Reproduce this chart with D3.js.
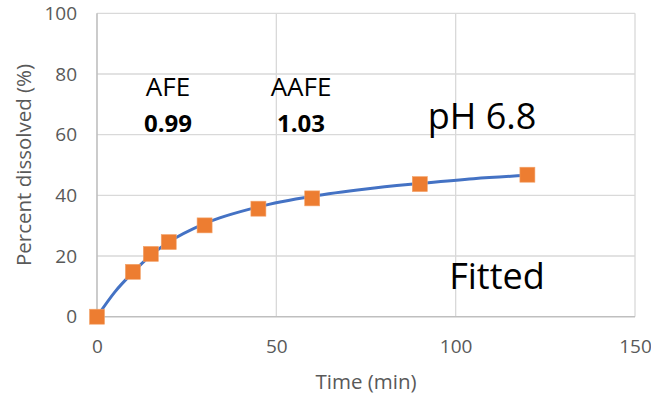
<!DOCTYPE html>
<html>
<head>
<meta charset="utf-8">
<script src="https://cdn.jsdelivr.net/npm/d3@7"></script>
<style>
  html, body { margin: 0; padding: 0; background: #fff; }
  svg { display: block; font-family: "Open Sans", "Liberation Sans", sans-serif; }
</style>
</head>
<body>
<svg id="chart" width="651" height="398"></svg>
<script>
// Observed dissolution at pH 6.8
const times = [0, 10, 15, 20, 30, 45, 60, 90, 120];
const dissolved = [0, 14.8, 20.7, 24.6, 30.1, 35.6, 39.0, 43.7, 46.8];

// Fitted profile
const fitTimes = [0, 5, 10, 15, 20, 30, 45, 60, 75, 90, 105, 120];
const fitDissolved = [0, 8.2, 14.6, 20.2, 24.6, 30.7, 36.2, 39.7, 42.1, 43.9, 45.5, 46.6];

const xTicks = [0, 50, 100, 150];
const yTicks = [0, 20, 40, 60, 80, 100];

const svg = d3.select("#chart");
const plotL = 97, plotR = 635, plotT = 13.3, plotB = 316.7;

const x = d3.scaleLinear().domain([0, 150]).range([plotL, plotR]);
const y = d3.scaleLinear().domain([0, 100]).range([plotB, plotT]);

// Gridlines
const grid = svg.append("g");
grid.selectAll("line.h").data(yTicks.filter(d => d > 0)).join("line")
  .attr("x1", plotL).attr("x2", plotR)
  .attr("y1", d => y(d)).attr("y2", d => y(d))
  .attr("stroke", "#d9d9d9").attr("stroke-width", 1.3);
grid.selectAll("line.v").data(xTicks.filter(d => d > 0)).join("line")
  .attr("x1", d => x(d)).attr("x2", d => x(d))
  .attr("y1", plotT).attr("y2", plotB)
  .attr("stroke", "#d9d9d9").attr("stroke-width", 1.3);

// Axis lines
svg.append("line").attr("x1", plotL).attr("x2", plotL).attr("y1", plotT).attr("y2", plotB)
  .attr("stroke", "#bfbfbf").attr("stroke-width", 1.6);
svg.append("line").attr("x1", plotL).attr("x2", plotR).attr("y1", plotB).attr("y2", plotB)
  .attr("stroke", "#bfbfbf").attr("stroke-width", 1.6);

// Tick labels
const xAxis = svg.append("g").attr("transform", `translate(0,${plotB})`)
  .call(d3.axisBottom(x).tickValues(xTicks).tickSize(0).tickPadding(23));
const yAxis = svg.append("g").attr("transform", `translate(${plotL},0)`)
  .call(d3.axisLeft(y).tickValues(yTicks).tickSize(0).tickPadding(20));
[xAxis, yAxis].forEach(a => {
  a.select(".domain").remove();
  a.selectAll("text")
    .attr("fill", "#595959")
    .style("font-family", "'Open Sans', 'Liberation Sans', sans-serif")
    .style("font-size", "19px");
});

// Axis titles
svg.append("text").attr("x", (plotL + plotR) / 2).attr("y", 389)
  .attr("text-anchor", "middle").attr("fill", "#595959")
  .style("font-size", "20.5px").text("Time (min)");
svg.append("text").attr("transform", `translate(31,${(plotT + plotB) / 2}) rotate(-90)`)
  .attr("text-anchor", "middle").attr("fill", "#595959")
  .style("font-size", "20.5px").text("Percent dissolved (%)");

// Fitted curve
const line = d3.line().x(d => x(d[0])).y(d => y(d[1])).curve(d3.curveMonotoneX);
svg.append("path")
  .datum(fitTimes.map((t, i) => [t, fitDissolved[i]]))
  .attr("d", line).attr("fill", "none")
  .attr("stroke", "#4472C4").attr("stroke-width", 3);

// Observed markers
const ms = 15;
svg.append("g").selectAll("rect").data(times.map((t, i) => [t, dissolved[i]])).join("rect")
  .attr("x", d => x(d[0]) - ms / 2).attr("y", d => y(d[1]) - ms / 2)
  .attr("width", ms).attr("height", ms)
  .attr("fill", "#ED7D31").attr("stroke", "#f4a46c").attr("stroke-width", 0.6);

// Annotations
const ann = svg.append("g").attr("fill", "#000").attr("text-anchor", "middle");
ann.append("text").attr("x", 168).attr("y", 96).style("font-size", "26px").text("AFE");
ann.append("text").attr("x", 168).attr("y", 132).style("font-size", "24px").style("font-weight", "bold").text("0.99");
ann.append("text").attr("x", 301).attr("y", 96).style("font-size", "26px").text("AAFE");
ann.append("text").attr("x", 301).attr("y", 132).style("font-size", "24px").style("font-weight", "bold").text("1.03");
ann.append("text").attr("x", 482).attr("y", 128.5).style("font-size", "36px").text("pH 6.8");
ann.append("text").attr("x", 497).attr("y", 288.5).style("font-size", "36px").text("Fitted");
</script>
</body>
</html>
